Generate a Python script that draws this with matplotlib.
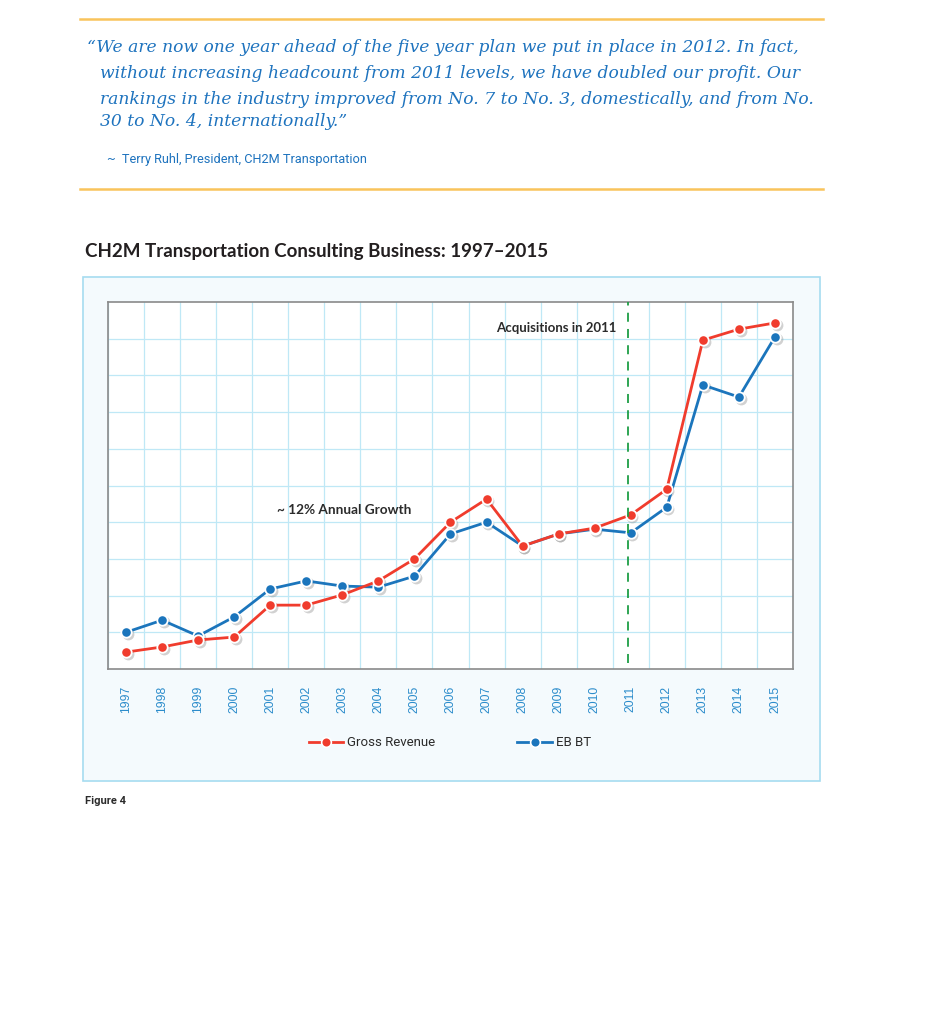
import numpy as np
import matplotlib
matplotlib.use('Agg')
import matplotlib.pyplot as plt
from matplotlib.lines import Line2D
from matplotlib.patches import Rectangle
from matplotlib.transforms import offset_copy

# ------------------------------------------------------------------------------
# Data (arbitrary units: one grid row = 1)
# ------------------------------------------------------------------------------
years = [str(y) for y in range(1997, 2016)]
gross_revenue = [0.46, 0.60, 0.79, 0.87, 1.74, 1.74, 2.02, 2.40, 3.00, 4.00,
                 4.63, 3.35, 3.68, 3.84, 4.20, 4.90, 8.96, 9.26, 9.43]
ebbt = [1.00, 1.33, 0.90, 1.42, 2.18, 2.40, 2.26, 2.23, 2.53, 3.68,
        4.00, 3.35, 3.68, 3.81, 3.71, 4.41, 7.74, 7.41, 9.05]
series_names = ['Gross Revenue', 'EB BT']

quote_lines = [
    '\u201cWe are now one year ahead of the five year plan we put in place in 2012. In fact,',
    'without increasing headcount from 2011 levels, we have doubled our profit. Our',
    'rankings in the industry improved from No. 7 to No. 3, domestically, and from No.',
    '30 to No. 4, internationally.\u201d',
]
attribution = '~  Terry Ruhl, President, CH2M Transportation'
title = 'CH2M Transportation Consulting Business: 1997\u20132015'

RED = '#F03C2D'
BLUE = '#1B75BC'
TEXT_BLUE = '#1E73BE'
GRID = '#BFE8F6'
NARROW = ['Roboto', 'DejaVu Sans']

W, H = 929, 1024
fig = plt.figure(figsize=(W / 100, H / 100), dpi=100)
fig.patch.set_facecolor('white')

def fx(px):
    return px / W

def fy(py):
    return 1 - py / H

# ------------------------------------------------------------------------------
# Quote block
# ------------------------------------------------------------------------------
for y in (19, 189):
    fig.add_artist(Line2D([fx(80), fx(823)], [fy(y), fy(y)], color='#F9C45C', lw=1.8))

line_y = [47, 74, 99, 122]
for i, (txt, y) in enumerate(zip(quote_lines, line_y)):
    fig.text(fx(87 if i == 0 else 100), fy(y), txt, fontsize=12.3, style='italic',
             family='DejaVu Serif', color=TEXT_BLUE, va='center', ha='left')

fig.text(fx(107), fy(160), attribution, fontsize=9.2, family=NARROW,
         color=TEXT_BLUE, va='center', ha='left')

# ------------------------------------------------------------------------------
# Title + panel
# ------------------------------------------------------------------------------
fig.text(fx(85), fy(252), title, fontsize=13.5, fontweight='bold', family='Lato',
         color='#231F20', va='center', ha='left')

fig.add_artist(Rectangle((fx(83), fy(781)), fx(820) - fx(83), fy(277) - fy(781),
                         transform=fig.transFigure, facecolor='#F4FAFD',
                         edgecolor='#A6DCF0', lw=1.2, zorder=0))

ax = fig.add_axes([fx(108), fy(669), fx(793) - fx(108), fy(302) - fy(669)])
ax.set_facecolor('white')
x = np.arange(len(years))
ax.set_xlim(-0.5, len(years) - 0.5)
ax.set_ylim(0, 10)

ax.set_xticks(x)
ax.set_xticklabels(years, rotation=90, color='#2B8CCB', fontsize=8.8,
                   family='Liberation Sans')
ax.set_xticks(np.arange(-0.5, len(years), 1), minor=True)
ax.set_yticks(np.arange(1, 10))
ax.set_yticklabels([])
ax.tick_params(axis='both', which='both', length=0)
ax.tick_params(axis='x', pad=12)
ax.grid(True, which='minor', axis='x', color=GRID, lw=0.9)
ax.grid(True, which='major', axis='y', color=GRID, lw=0.9)
ax.set_axisbelow(True)
for s in ax.spines.values():
    s.set_color('#8A8A8A')
    s.set_linewidth(1.2)

shadow = offset_copy(ax.transData, fig=fig, x=1.2, y=-1.2, units='points')
for vals, col in ((ebbt, BLUE), (gross_revenue, RED)):
    ax.plot(x, vals, 'o', ms=8.5, color='#9A9A9A', alpha=0.45, mec='none',
            transform=shadow, zorder=2)
    ax.plot(x, vals, '-o', color=col, lw=2, ms=7.5, mfc=col, mec='white',
            mew=1.3, zorder=3)

ax.axvline(13.93, ymin=0.015, ymax=1, color='#1E9E45', lw=1.3,
           dashes=(5, 4), zorder=4)

ax.text(13.6, 9.3, 'Acquisitions in 2011', ha='right', va='center',
        fontsize=9.5, fontweight='bold', family='Lato', color='#2B2B2B')
ax.text(6.05, 4.33, '~ 12% Annual Growth', ha='center', va='center',
        fontsize=9.8, fontweight='bold', family='Lato', color='#2B2B2B')

handles = [Line2D([], [], color=c, lw=2, marker='o', ms=7, mec='white', mew=1.2)
           for c in (RED, BLUE)]
leg = fig.legend(handles, series_names, loc='center', ncol=2,
                 bbox_to_anchor=(fx(450), fy(743)), frameon=False,
                 columnspacing=6.2, handlelength=2.6, handletextpad=0.35,
                 prop={'family': NARROW, 'size': 9.5})
for t in leg.get_texts():
    t.set_color('#2B2B2B')

fig.text(fx(85), fy(801), 'Figure 4', fontsize=8, family=NARROW, fontweight='bold',
         color='#2B2B2B', va='center', ha='left')

fig.savefig('out.png', dpi=100, facecolor='white')
